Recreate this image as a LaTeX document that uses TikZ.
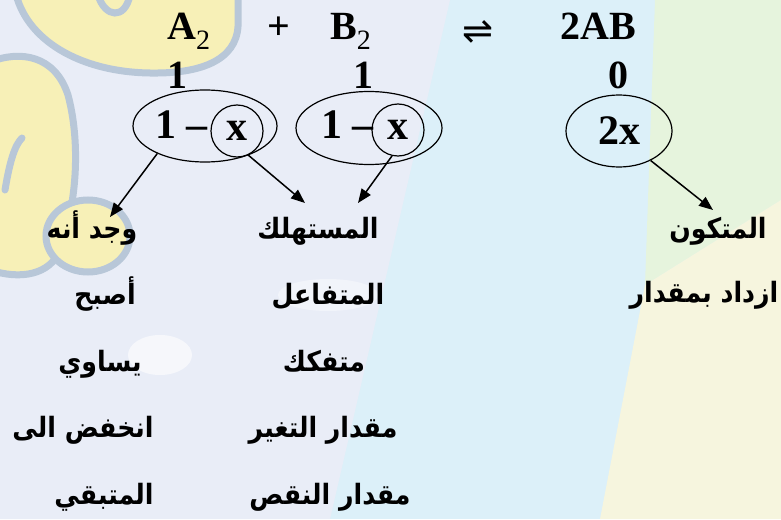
\documentclass[tikz,border=0pt]{standalone}
\usepackage{fontspec}
\setmainfont{Liberation Serif}
\newfontfamily\arabicfont[Script=Arabic,FakeStretch=0.9]{DejaVu Sans}
\newfontfamily\symfont{DejaVu Sans}
\TeXXeTstate=1
\usetikzlibrary{arrows.meta,shapes.geometric}
\definecolor{bgblue}{RGB}{220,240,249}
\definecolor{bglav}{RGB}{233,237,247}
\definecolor{bggreen}{RGB}{230,244,221}
\definecolor{bgyel}{RGB}{246,245,222}
\definecolor{swirlfill}{RGB}{247,240,183}
\definecolor{swirlline}{RGB}{184,199,216}
\begin{document}
\begin{tikzpicture}[x=1pt,y=-1pt,
  lat/.style={font=\fontsize{40}{44}\selectfont\bfseries, inner sep=0pt},
  latbig/.style={font=\fontsize{42}{46}\selectfont\bfseries, inner sep=0pt},
  ar/.style={font=\arabicfont\bfseries\fontsize{28}{32}\selectfont, inner sep=0pt, anchor=base},
  ell/.style={draw, ellipse, line width=1.2pt, inner sep=0pt},
  circ/.style={draw, circle, line width=1.2pt, minimum size=52pt, inner sep=0pt},
  arr/.style={line width=1.5pt, -{Triangle[length=14pt,width=11pt]}},
  swirl/.style={fill=swirlfill, draw=swirlline, line width=7pt},
  swirlstroke/.style={draw=swirlline, line width=7pt, line cap=round}]
\useasboundingbox (0,0) rectangle (781,519);
% background
\begin{scope}
\clip (0,0) rectangle (781,519);
\fill[bgblue] (0,0) rectangle (781,519);
\fill[bglav] (0,0) -- (450,0) -- (330,519) -- (0,519) -- cycle;
\fill[white, opacity=0.6] (160,355) ellipse [x radius=32, y radius=20];
\fill[white, opacity=0.4] (328,295) ellipse [x radius=50, y radius=16];
\fill[bggreen] (655,0) -- (781,0) -- (781,200) -- (645,285) -- cycle;
\fill[bgyel] (645,285) -- (781,200) -- (781,519) -- (600,519) -- cycle;
\filldraw[swirl] (15,-10) .. controls (25,40) and (80,72) .. (150,73) .. controls (210,74) and (240,55) .. (238,20) -- (238,-10) -- cycle;
\draw[swirlstroke] (98,-5) .. controls (105,18) and (125,20) .. (130,-5);
\filldraw[swirl] (-10,62) .. controls (20,50) and (55,55) .. (68,95) .. controls (80,140) and (78,200) .. (60,250) .. controls (50,275) and (20,280) .. (-10,270) -- cycle;
\draw[swirlstroke] (5,190) .. controls (10,160) and (15,145) .. (22,138);
\filldraw[swirl] (88,236) ellipse [x radius=42, y radius=36];
\end{scope}
% equation
\node[lat, anchor=base west] (a2) at (167,40) {A{\normalfont\textsubscript{2}}};
\node[lat, anchor=base] (plus) at (279,40) {+};
\node[lat, anchor=base west] (b2) at (330,40) {B{\normalfont\textsubscript{2}}};
\node[inner sep=0pt, font=\symfont\fontsize{37}{40}\selectfont] (eq) at (478,32) {⇌};
\node[lat, anchor=base west] (ab) at (560,40) {2AB};
\node[lat, anchor=base] (n1) at (177,88) {1};
\node[lat, anchor=base] (n2) at (363,88) {1};
\node[lat, anchor=base] (n3) at (618,88) {0};
% ellipses
\node[ell, minimum width=144pt, minimum height=72pt] (e1) at (205,126) {};
\node[latbig, anchor=base west] (t1) at (155,138) {1 –};
\node[circ, latbig] (c1) at (237,131) {x};
\node[ell, minimum width=146pt, minimum height=73pt] (e2) at (369,128) {};
\node[latbig, anchor=base west] (t2) at (321,138) {1 –};
\node[circ, latbig] (c2) at (398,130) {x};
\node[ell, latbig, minimum width=106pt, minimum height=72pt] (e3) at (619,131) {2x};
% arabic labels
\node[ar] (w1) at (92,238) {\beginR وجد أنه\endR};
\node[ar] (w2) at (105,304) {\beginR أصبح\endR};
\node[ar] (w3) at (100,371) {\beginR يساوي\endR};
\node[ar] (w4) at (83,437) {\beginR انخفض الى\endR};
\node[ar] (w5) at (104,504) {\beginR المتبقي\endR};
\node[ar] (m1) at (318,238) {\beginR المستهلك\endR};
\node[ar] (m2) at (328,304) {\beginR المتفاعل\endR};
\node[ar] (m3) at (324,371) {\beginR متفكك\endR};
\node[ar] (m4) at (323,437) {\beginR مقدار التغير\endR};
\node[ar] (m5) at (330,504) {\beginR مقدار النقص\endR};
\node[ar] (r1) at (718,238) {\beginR المتكون\endR};
\node[ar] (r2) at (704,302) {\beginR ازداد بمقدار\endR};
% arrows
\coordinate (tip1) at (110,217);
\coordinate (tip2) at (305,203);
\coordinate (tip3) at (358,203);
\coordinate (tip4) at (713,210);
\draw[arr] (e1.210) -- (tip1);
\draw[arr] (c1.295) -- (tip2);
\draw[arr] (c2.257) -- (tip3);
\draw[arr] (e3.317) -- (tip4);
\end{tikzpicture}
\end{document}
